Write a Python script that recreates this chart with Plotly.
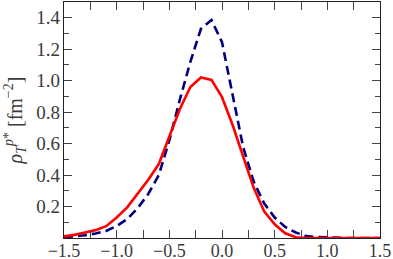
import plotly.graph_objects as go

x_vals = [-1.5, -1.4, -1.3, -1.2, -1.1, -1.0, -0.9, -0.8, -0.7, -0.6, -0.5, -0.4, -0.3, -0.2, -0.1,
          0.0, 0.1, 0.2, 0.3, 0.4, 0.5, 0.6, 0.7, 0.8, 0.9, 1.0, 1.1, 1.2, 1.3, 1.4, 1.5]
red_solid = [0.01, 0.02, 0.035, 0.05, 0.075, 0.13, 0.195, 0.28, 0.37, 0.47, 0.64, 0.82, 0.96, 1.02, 1.005,
             0.895, 0.72, 0.52, 0.32, 0.17, 0.087, 0.03, 0.005, 0.0, 0.0, 0.0, 0.0, 0.0, 0.0, 0.0, 0.0]
blue_dashed = [0.005, 0.01, 0.018, 0.028, 0.045, 0.076, 0.12, 0.19, 0.28, 0.40, 0.62, 0.88, 1.12, 1.33, 1.385,
               1.245, 0.91, 0.58, 0.36, 0.22, 0.13, 0.07, 0.035, 0.012, 0.006, 0.003, 0.001, 0.0, 0.0, 0.0, 0.0]

x_ticks = [-1.5, -1.0, -0.5, 0.0, 0.5, 1.0, 1.5]
x_ticktext = ["\u22121.5", "\u22121.0", "\u22120.5", "0.0", "0.5", "1.0", "1.5"]
y_ticks = [0.2, 0.4, 0.6, 0.8, 1.0, 1.2, 1.4]
y_ticktext = ["0.2", "0.4", "0.6", "0.8", "1.0", "1.2", "1.4"]

fig = go.Figure()
fig.add_trace(go.Scatter(x=x_vals, y=blue_dashed, mode="lines",
                         line=dict(color="#00007F", width=2.6, dash="9px,5px")))
fig.add_trace(go.Scatter(x=x_vals, y=red_solid, mode="lines",
                         line=dict(color="#FF0000", width=2.6)))

font_family = "Liberation Serif"
axis_common = dict(showgrid=False, zeroline=False, showline=True, linecolor="#222222", linewidth=1.3,
                   mirror="allticks", ticks="inside", ticklen=8, tickwidth=1.2, tickcolor="#444444",
                   automargin=False,
                   tickfont=dict(family=font_family, size=19, color="#3a3a3a"))
fig.update_layout(
    width=393, height=259,
    margin=dict(l=64, r=13, t=2, b=21),
    plot_bgcolor="white", paper_bgcolor="white",
    showlegend=False,
    xaxis=dict(range=[-1.5, 1.5], tickvals=x_ticks, ticktext=x_ticktext, ticklabelstandoff=-4,
               tickfont=dict(family=font_family, size=18, color="#3a3a3a"),
               minor=dict(dtick=0.25, tick0=0, ticks="inside", ticklen=8, tickwidth=1.2, tickcolor="#444444"),
               **{k: v for k, v in axis_common.items() if k != "tickfont"}),
    yaxis=dict(range=[0, 1.5], tickvals=y_ticks, ticktext=y_ticktext, ticklabelstandoff=-1,
               minor=dict(dtick=0.1, tick0=0, ticks="inside", ticklen=5, tickwidth=1.2, tickcolor="#444444"),
               title=dict(text="<i>\u03c1</i><sub><i>T</i></sub><sup><i>p</i>*</sup> [fm<sup>\u22122</sup>]",
                          font=dict(family=font_family, size=20, color="#3a3a3a"), standoff=8),
               **axis_common),
)
fig.write_html("out.html", config={"displayModeBar": False},
               post_script="document.body.style.margin='0';document.body.style.overflow='hidden';")
